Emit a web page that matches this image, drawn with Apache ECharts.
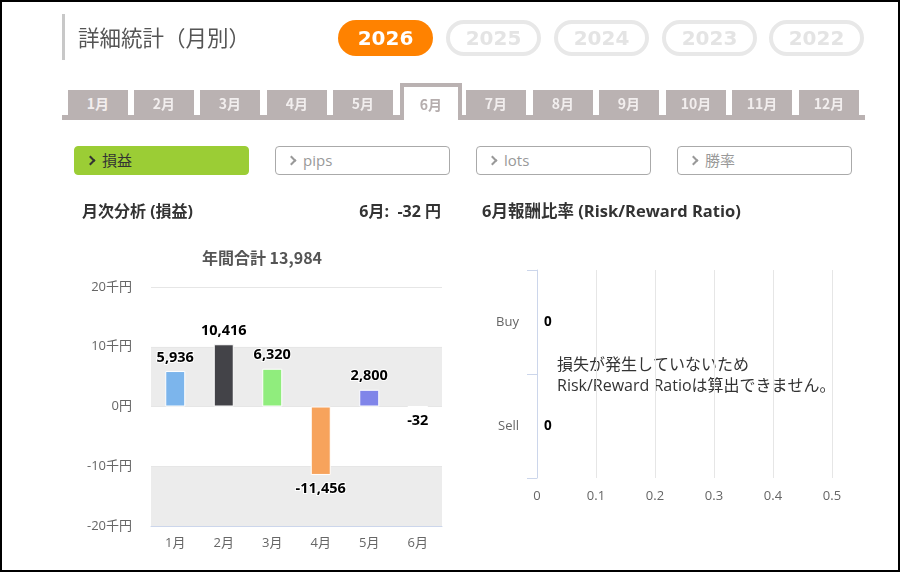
<!DOCTYPE html>
<html>
<head>
<meta charset="utf-8">
<script src="https://cdn.jsdelivr.net/npm/echarts@6/dist/echarts.min.js"></script>
<style>
body { margin: 0; background: #fff; font-family: "Open Sans", "Noto Sans CJK JP", sans-serif; }
#page { position: relative; width: 900px; height: 572px; overflow: hidden; }
#chart { position: absolute; left: 0; top: 0; width: 900px; height: 572px; }
#frame { position: absolute; left: 0; top: 0; width: 900px; height: 572px; box-sizing: border-box; border: 2px solid #000; pointer-events: none; }
.abs { position: absolute; }
#titlebar { left: 62px; top: 14px; width: 3px; height: 46px; background: #c8c8c8; }
#title { left: 78px; top: 21px; font-size: 21.5px; color: #555; font-family: "Noto Sans CJK JP", sans-serif; line-height: 32px; }
.yr { position: absolute; top: 20px; width: 95px; height: 36px; border-radius: 18px; box-sizing: border-box;
      font: bold 20px "DejaVu Sans", sans-serif; text-align: center; line-height: 36px; }
.yr.on { background: #ff8200; color: #fff; }
.yr.off { border: 4px solid #e8e8e8; color: #e4e4e4; line-height: 28px; }
#tabbar { left: 62px; top: 115px; width: 803px; height: 5px; background: #bab2b2; }
.tab { position: absolute; top: 90px; width: 60px; height: 25px; background: #bab2b2; color: #f2eeee;
       font: bold 14px "Noto Sans CJK JP", sans-serif; text-align: center; line-height: 26px; }
.tab.on { top: 83px; width: 62px; height: 37px; box-sizing: border-box; border: 4px solid #bab2b2; border-bottom: none;
          background: #fff; color: #b5adad; line-height: 34px; }
.btn { position: absolute; top: 146px; width: 175px; height: 29px; border-radius: 4px; box-sizing: border-box;
       font-size: 15px; line-height: 27px; padding-left: 12px; }
.btn.on { background: #9bcd35; color: #333; border: 1px solid #9bcd35; }
.btn.off { background: #fff; border: 1px solid #aaa; color: #999; }
.chev { display: inline-block; width: 5px; height: 5px; border-right: 2px solid currentColor; border-top: 2px solid currentColor;
        transform: rotate(45deg); margin-right: 8px; position: relative; top: -2px; }
.sub { position: absolute; top: 200px; font-weight: bold; font-size: 16px; color: #333; line-height: 22px; }
</style>
</head>
<body>
<div id="page">
  <div id="chart"></div>
  <div id="titlebar" class="abs"></div>
  <div id="title" class="abs">詳細統計（月別）</div>
  <div id="years"></div>
  <div id="tabbar" class="abs"></div>
  <div id="tabs"></div>
  <div id="btns"></div>
  <div class="sub" style="left:82px;">月次分析 (損益)</div>
  <div class="sub" style="left:280px;width:161px;text-align:right;">6月:&nbsp; -32 円</div>
  <div class="sub" style="left:482px;font-size:16.5px;">6月報酬比率 (Risk/Reward Ratio)</div>
  <div id="frame"></div>
</div>
<script>
// page chrome
var years = ['2026', '2025', '2024', '2023', '2022'];
var yearLeft = [338, 446, 554, 662, 769];
var tabNames = ['1月', '2月', '3月', '4月', '5月', '6月', '7月', '8月', '9月', '10月', '11月', '12月'];
var tabLeft = [68, 134, 200, 267, 333, 400, 466, 533, 599, 666, 732, 799];
var activeTab = 5;
var buttons = ['損益', 'pips', 'lots', '勝率'];
var btnLeft = [74, 275, 476, 677];

// monthly P/L chart
var months = ['1月', '2月', '3月', '4月', '5月', '6月'];
var profit = [5936, 10416, 6320, -11456, 2800, -32];
var barColors = ['#7cb5ec', '#434348', '#90ed7d', '#f7a35c', '#8085e9', '#f15c80'];

// risk/reward chart
var sides = ['Buy', 'Sell'];
var ratio = [0, 0];
var note = '損失が発生していないため\nRisk/Reward Ratioは算出できません。';

years.forEach(function (y, i) {
    var d = document.createElement('div');
    d.className = 'yr ' + (i === 0 ? 'on' : 'off');
    d.style.left = yearLeft[i] + 'px';
    d.textContent = y;
    document.getElementById('years').appendChild(d);
});
tabNames.forEach(function (t, i) {
    var d = document.createElement('div');
    d.className = 'tab' + (i === activeTab ? ' on' : '');
    d.style.left = tabLeft[i] + 'px';
    d.textContent = t;
    document.getElementById('tabs').appendChild(d);
});
buttons.forEach(function (b, i) {
    var d = document.createElement('div');
    d.className = 'btn ' + (i === 0 ? 'on' : 'off');
    d.style.left = btnLeft[i] + 'px';
    d.innerHTML = '<span class="chev"></span>' + b;
    document.getElementById('btns').appendChild(d);
});

var total = profit.reduce(function (a, b) { return a + b; }, 0);
var fmt = function (v) { return v.toLocaleString('en-US'); };

var chart = echarts.init(document.getElementById('chart'));
var labelStyle = {
    show: true,
    fontWeight: 'bold',
    fontSize: 14.5,
    color: '#000',
    textBorderColor: '#fff',
    textBorderWidth: 2,
    fontFamily: 'Open Sans'
};

chart.setOption({
    animation: false,
    textStyle: { fontFamily: '"Open Sans", "Noto Sans CJK JP", sans-serif' },
    grid: [
        { left: 151, right: 458, top: 287, bottom: 46 },
        { left: 537, right: 68, top: 270, bottom: 94 }
    ],
    xAxis: [
        {
            type: 'category', gridIndex: 0, data: months,
            axisLine: { onZero: false, lineStyle: { color: '#ccd6eb' } },
            axisTick: { show: false },
            axisLabel: { color: '#666', fontSize: 13, margin: 11 }
        },
        {
            type: 'value', gridIndex: 1, min: 0, max: 0.5, interval: 0.1,
            axisLine: { show: false },
            axisTick: { show: false },
            splitLine: { lineStyle: { color: '#e6e6e6' } },
            axisLabel: { color: '#666', fontSize: 13, margin: 12 }
        }
    ],
    yAxis: [
        {
            type: 'value', gridIndex: 0, min: -20000, max: 20000, interval: 10000,
            axisLabel: {
                color: '#666', fontSize: 13, margin: 19,
                formatter: function (v) { return v === 0 ? '0円' : (v / 1000) + '千円'; }
            },
            splitLine: { lineStyle: { color: '#e6e6e6' } },
            splitArea: { show: true, areaStyle: { color: ['#ececec', '#ffffff'] } }
        },
        {
            type: 'category', gridIndex: 1, data: sides, inverse: true,
            axisLine: { lineStyle: { color: '#ccd6eb' } },
            axisTick: { show: true, length: 10, lineStyle: { color: '#ccd6eb' } },
            axisLabel: { color: '#666', fontSize: 13, margin: 18 }
        }
    ],
    series: [
        {
            type: 'bar', xAxisIndex: 0, yAxisIndex: 0, barWidth: 20,
            itemStyle: { borderColor: '#fff', borderWidth: 1 },
            label: Object.assign({}, labelStyle, { formatter: function (p) { return fmt(p.value); } }),
            data: profit.map(function (v, i) {
                return {
                    value: v,
                    itemStyle: { color: barColors[i] },
                    label: { position: v < 0 ? 'bottom' : 'top', distance: 6 }
                };
            })
        },
        {
            type: 'bar', xAxisIndex: 1, yAxisIndex: 1,
            label: Object.assign({}, labelStyle, { position: 'right', distance: 7, fontSize: 13.5 }),
            data: ratio
        }
    ],
    graphic: [
        {
            type: 'text', x: 262, y: 258,
            style: {
                text: '年間合計 ' + fmt(total), align: 'center', verticalAlign: 'middle',
                fontSize: 16, fontWeight: 'bold', fill: '#555',
                fontFamily: '"Noto Sans CJK JP", sans-serif'
            }
        },
        {
            type: 'text', x: 557, y: 376,
            style: {
                text: note, verticalAlign: 'middle', fontSize: 16, lineHeight: 21, fill: '#333',
                fontFamily: '"Open Sans", "Noto Sans CJK JP", sans-serif'
            }
        }
    ]
});
</script>
</body>
</html>
